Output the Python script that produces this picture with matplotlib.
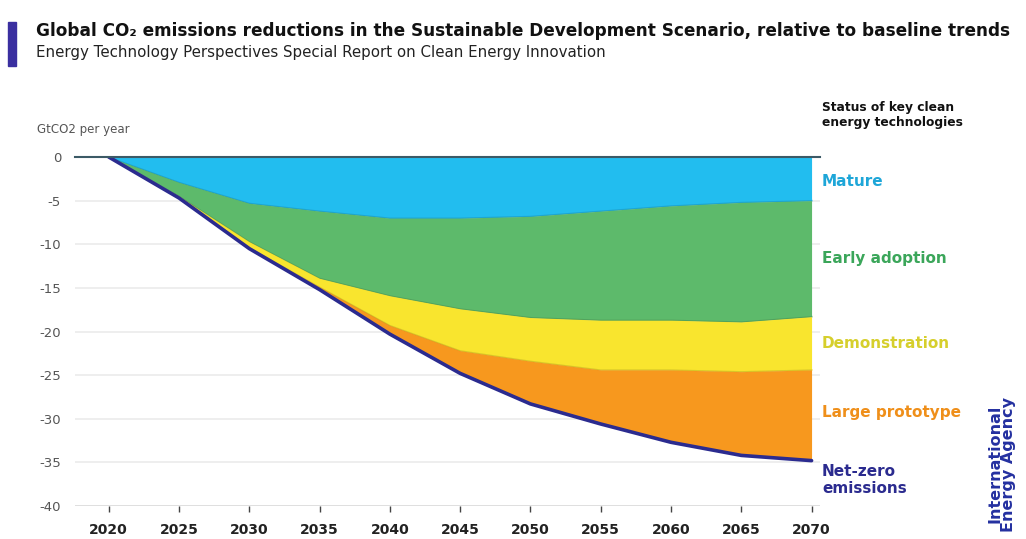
import matplotlib
matplotlib.use("Agg")
import matplotlib.pyplot as plt
import numpy as np

years = [2020, 2025, 2030, 2035, 2040, 2045, 2050, 2055, 2060, 2065, 2070]
mature = [0, 2.9, 5.3, 6.2, 7.0, 7.0, 6.8, 6.2, 5.6, 5.2, 5.0]
early_adoption = [0, 1.6, 4.4, 7.7, 8.9, 10.4, 11.6, 12.5, 13.1, 13.7, 13.3]
demonstration = [0, 0.1, 0.7, 1.0, 3.4, 4.8, 5.0, 5.7, 5.7, 5.7, 6.1]
large_prototype = [0, 0.1, 0.1, 0.3, 1.0, 2.6, 4.9, 6.2, 8.3, 9.6, 10.4]
net_zero = [0, -4.7, -10.5, -15.2, -20.3, -24.8, -28.3, -30.6, -32.7, -34.2, -34.8]

yticks = [0, -5, -10, -15, -20, -25, -30, -35, -40]
xticks = [2020, 2025, 2030, 2035, 2040, 2045, 2050, 2055, 2060, 2065, 2070]

layer_names = ["Mature", "Early adoption", "Demonstration", "Large prototype"]
layer_colors = ["#22bdef", "#5dba6b", "#f9e52e", "#f7981e"]
label_colors = ["#1ea6d8", "#3ba65a", "#d6cf2c", "#ef8f1a"]
navy = "#2b2b8f"

fig = plt.figure(figsize=(10.26, 5.39), dpi=100)
ax = fig.add_axes([75/1026, 33/539, 745/1026, 349/539])

vals = [np.array(mature), np.array(early_adoption), np.array(demonstration), np.array(large_prototype)]
lower = np.zeros(len(years))
for v, c in zip(vals, layer_colors):
    upper = lower
    new_lower = lower - v
    ax.fill_between(years, upper, new_lower, color=c, lw=0, zorder=2)
    ax.plot(years, new_lower, color=c, lw=1.2, zorder=2)
    lower = new_lower
cum = np.zeros(len(years))
for v in vals[:-1]:
    cum = cum - v
    ax.plot(years, cum, color="#000000", alpha=0.12, lw=0.8, zorder=3)

ax.plot(years, net_zero, color=navy, lw=2.6, zorder=4, solid_capstyle="round")

ax.set_xlim(2017.6, 2070.6)
ax.set_ylim(-40, 0)
for y in yticks[1:-1]:
    ax.axhline(y, color="#ebebeb", lw=1.2, zorder=1)
ax.axhline(-40, color="#d9d9d9", lw=1.2, zorder=1)
ax.plot([2017.6, 2070.6], [0, 0], color="#3c5a66", lw=1.5, zorder=5, clip_on=False)

for s in ax.spines.values():
    s.set_visible(False)
ax.set_yticks(yticks)
ax.set_yticklabels([str(t) for t in yticks], color="#555555", fontsize=9.5)
ax.tick_params(axis="y", length=0, pad=10)
ax.set_xticks(xticks)
ax.set_xticklabels([str(t) for t in xticks], fontsize=10, fontweight="bold", color="#222222")
ax.tick_params(axis="x", length=4, width=1, color="#444444", pad=8, direction="out")

fig.text(37/1026, 1 - 130/539, "GtCO2 per year", fontsize=8.5, color="#555555", va="center", ha="left")

# Title block
fig.patches.append(plt.Rectangle((8/1026, 1 - 66/539), 8/1026, 44/539, transform=fig.transFigure,
                                 color="#3a2fa0", zorder=0))
fig.text(36/1026, 1 - 31/539, "Global CO\u2082 emissions reductions in the Sustainable Development Scenario, relative to baseline trends",
         fontsize=12.2, fontweight="bold", color="#111111", va="center", ha="left")
fig.text(36/1026, 1 - 52/539, "Energy Technology Perspectives Special Report on Clean Energy Innovation",
         fontsize=10.8, color="#222222", va="center", ha="left")

# Right-hand labels
fig.text(822/1026, 1 - 115/539, "Status of key clean\nenergy technologies", fontsize=8.8, fontweight="bold",
         color="#111111", va="center", ha="left", linespacing=1.25)
label_y = [181, 258, 343, 412]
for name, c, yy in zip(layer_names, label_colors, label_y):
    fig.text(822/1026, 1 - yy/539, name, fontsize=11, fontweight="bold", color=c, va="center", ha="left")
fig.text(822/1026, 1 - 480/539, "Net-zero\nemissions", fontsize=11, fontweight="bold", color=navy,
         va="center", ha="left", linespacing=1.15)

fig.text(1002/1026, 1 - 464/539, "International\nEnergy Agency", fontsize=11.5, fontweight="bold", color="#2430a0",
         rotation=90, va="center", ha="center", linespacing=0.9)

fig.savefig("out.png", dpi=100)
